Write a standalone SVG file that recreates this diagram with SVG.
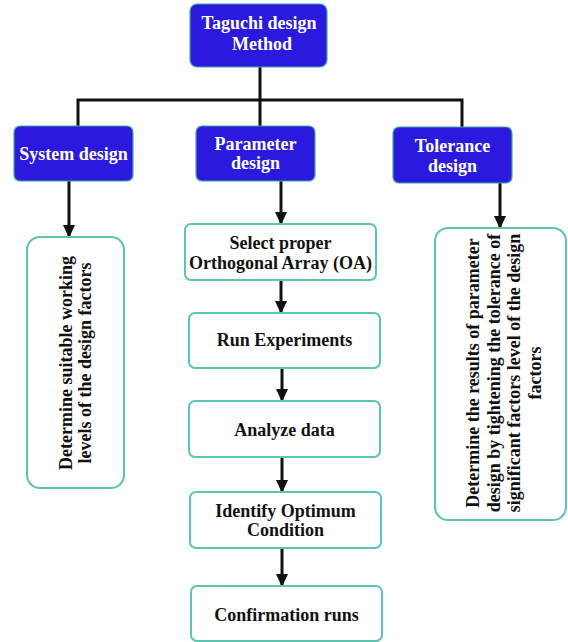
<svg xmlns="http://www.w3.org/2000/svg" width="568" height="642" viewBox="0 0 568 642">
<style>
.blue{fill:#2B1ADE;stroke:#3FA7A0;stroke-width:1.2}
.white{fill:#fff;stroke:#5DC4AE;stroke-width:2}
.wt{font-family:"Liberation Serif","Times New Roman",serif;font-weight:bold;font-size:18px;fill:#fff;text-anchor:middle}
.bt{font-family:"Liberation Serif","Times New Roman",serif;font-weight:bold;font-size:18px;fill:#111;text-anchor:middle}
.ln{stroke:#111;stroke-width:3;fill:none}
.ar{stroke:#111;stroke-width:3;fill:none;marker-end:url(#ah)}
</style>
<defs>
<marker id="ah" markerUnits="userSpaceOnUse" markerWidth="13" markerHeight="12" refX="12" refY="6" orient="auto" viewBox="0 0 13 12">
<path d="M0,0 L13,6 L0,12 Z" fill="#111"/>
</marker>
</defs>
<rect width="568" height="642" fill="#fff"/>
<g id="connectors">
<path class="ln" d="M260,67 V126 M78,126 V100 H462 V127"/>
<path class="ar" d="M69,181 V237"/>
<path class="ar" d="M281,181 V224"/>
<path class="ar" d="M500,183 V228"/>
<path class="ar" d="M281,280 V313"/>
<path class="ar" d="M282,368 V401"/>
<path class="ar" d="M282,457 V492"/>
<path class="ar" d="M282,548 V586"/>
</g>
<g id="taguchi">
<rect class="blue" x="190" y="4" width="137" height="63" rx="7"/>
<text class="wt" x="259" y="29">Taguchi design</text>
<text class="wt" x="262" y="50">Method</text>
</g>
<g id="system">
<rect class="blue" x="14" y="126" width="119" height="55" rx="6"/>
<text class="wt" x="73.5" y="160">System design</text>
</g>
<g id="parameter">
<rect class="blue" x="196" y="126" width="119" height="55" rx="6"/>
<text class="wt" x="255.5" y="150">Parameter</text>
<text class="wt" x="255.5" y="169">design</text>
</g>
<g id="tolerance">
<rect class="blue" x="393" y="127" width="119" height="56" rx="6"/>
<text class="wt" x="452.5" y="152">Tolerance</text>
<text class="wt" x="452.5" y="172">design</text>
</g>
<g id="system-detail">
<rect class="white" x="27" y="237" width="97" height="251" rx="13"/>
<text class="bt" transform="translate(72 363) rotate(-90)"><tspan x="0" y="0">Determine suitable working</tspan><tspan x="0" y="19">levels of the design factors</tspan></text>
</g>
<g id="tolerance-detail">
<rect class="white" x="435" y="228" width="131" height="292" rx="13"/>
<text class="bt" transform="translate(479 373) rotate(-90)"><tspan x="0" y="0">Determine the results of parameter</tspan><tspan x="0" y="21">design by tightening the tolerance of</tspan><tspan x="0" y="41">significant factors level of the design</tspan><tspan x="0" y="62">factors</tspan></text>
</g>
<g id="select-oa">
<rect class="white" x="185" y="224" width="191" height="56" rx="6"/>
<text class="bt" x="280.5" y="249">Select proper</text>
<text class="bt" x="280.5" y="269">Orthogonal Array (OA)</text>
</g>
<g id="run-experiments">
<rect class="white" x="189" y="313" width="191" height="55" rx="6"/>
<text class="bt" x="284.5" y="346">Run Experiments</text>
</g>
<g id="analyze-data">
<rect class="white" x="189" y="401" width="191" height="56" rx="6"/>
<text class="bt" x="284.5" y="436">Analyze data</text>
</g>
<g id="identify-optimum">
<rect class="white" x="190" y="492" width="191" height="56" rx="6"/>
<text class="bt" x="285.5" y="517">Identify Optimum</text>
<text class="bt" x="285.5" y="536">Condition</text>
</g>
<g id="confirmation">
<rect class="white" x="191" y="586" width="191" height="55" rx="6"/>
<text class="bt" x="286.5" y="621">Confirmation runs</text>
</g>
</svg>
